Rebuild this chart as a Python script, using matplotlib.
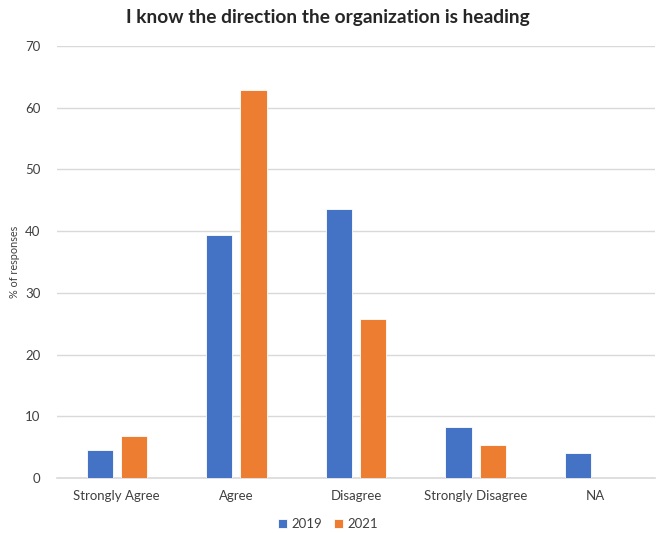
import matplotlib
matplotlib.use("Agg")
import matplotlib.pyplot as plt
import numpy as np

categories = ["Strongly Agree", "Agree", "Disagree", "Strongly Disagree", "NA"]
series_names = ["2019", "2021"]
values_2019 = [4.5, 39.3, 43.6, 8.3, 4.05]
values_2021 = [6.8, 62.8, 25.7, 5.3, 0.0]
yticks = [0, 10, 20, 30, 40, 50, 60, 70]

colors = ["#4472C4", "#ED7D31"]
plt.rcParams['font.family'] = ['Lato', 'DejaVu Sans']

fig = plt.figure(figsize=(6.56, 5.33), dpi=100)
ax = fig.add_axes([57/656, 1-478/533, (655-57)/656, (478-46)/533])

x = np.arange(len(categories))
w = 0.22
off = 0.143
ax.bar(x - off, values_2019, width=w, color=colors[0], edgecolor="white", linewidth=0.6, label=series_names[0], zorder=3)
ax.bar(x + off, values_2021, width=w, color=colors[1], edgecolor="white", linewidth=0.6, label=series_names[1], zorder=3)

ax.set_xlim(-0.5, len(categories) - 0.5)
ax.set_ylim(0, 70)
ax.set_yticks(yticks)
ax.set_yticklabels([str(t) for t in yticks], fontsize=9.5, color="#404040")
ax.set_xticks(x)
ax.set_xticklabels(categories, fontsize=9.5, color="#404040")
ax.tick_params(axis="both", length=0)
ax.tick_params(axis="x", pad=9)
ax.tick_params(axis="y", pad=12)
ax.grid(axis="y", color="#D9D9D9", linewidth=1.0, zorder=0)
for s in ["top", "right", "left"]:
    ax.spines[s].set_visible(False)
ax.spines["bottom"].set_color("#D9D9D9")
ax.spines["bottom"].set_linewidth(1.2)

ax.set_ylabel("% of responses", fontsize=7.8, color="#404040")
ax.yaxis.set_label_coords((20-57)/598, 0.5)

fig.text(0.5, 1-18/533, "I know the direction the organization is heading", ha="center", va="center",
         fontsize=13.8, fontweight="bold", color="#262626")

leg = fig.legend(loc="center", bbox_to_anchor=(0.5, 1-524/533), ncol=2, frameon=False, fontsize=9.5,
                 handlelength=0.7, handleheight=0.7, handletextpad=0.3, columnspacing=0.9)
for t in leg.get_texts():
    t.set_color("#404040")

fig.savefig("out.png", dpi=100)
